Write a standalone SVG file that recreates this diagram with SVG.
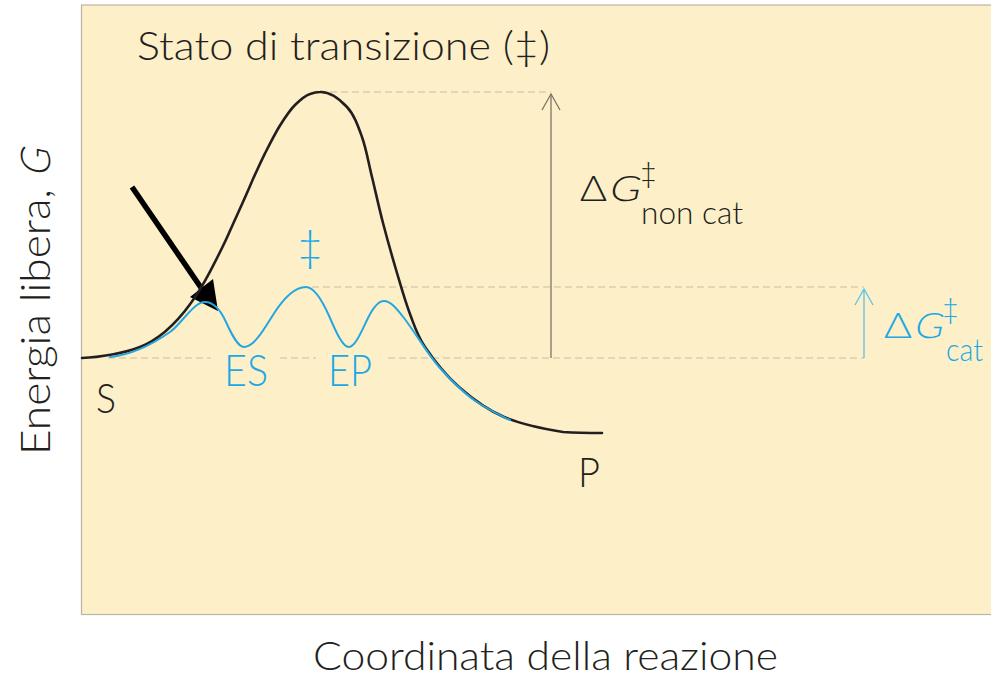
<svg xmlns="http://www.w3.org/2000/svg" width="991" height="678" viewBox="0 0 991 678">
<defs>
<style>
.t{font-family:"Lato","Liberation Sans",Arial,sans-serif;font-weight:300;fill:#231f20}
.b{fill:#1aa9e6}
.dash{stroke:#c8bda6;stroke-width:1.2;stroke-dasharray:7 4;fill:none}
.curve{fill:none;stroke:#231f20;stroke-width:2.6;stroke-linecap:round;stroke-linejoin:round}
.bcurve{fill:none;stroke:#25a6e0;stroke-width:2;stroke-linecap:round}
</style>
</defs>
<rect x="0" y="0" width="991" height="678" fill="#ffffff"/>
<rect id="panel" x="81.5" y="5" width="915" height="609.5" fill="#fdefc8" stroke="#bab3a4" stroke-width="1.2"/>

<g id="guides">
<line class="dash" x1="330" y1="92" x2="551" y2="92"/>
<line class="dash" x1="312" y1="287" x2="864" y2="287"/>
<line class="dash" x1="108" y1="358" x2="211" y2="358"/>
<line class="dash" x1="280" y1="358" x2="316" y2="358"/>
<line class="dash" x1="388" y1="358" x2="864" y2="358"/>
</g>

<g id="connectors">
<g id="arrow-noncat" stroke="#7d7468" stroke-width="1.3" fill="none">
<line x1="551" y1="358" x2="551" y2="94"/>
<polyline points="542,110 551,94 560,110"/>
</g>
<g id="arrow-cat" stroke="#5bc1ea" stroke-width="1.3" fill="none">
<line x1="864" y1="358" x2="864" y2="289"/>
<polyline points="855,305 864,289 873,305"/>
</g>
<g id="pointer">
<line x1="132" y1="187" x2="204" y2="292" stroke="#000" stroke-width="5.5"/>
<polygon points="218,311 190,297 213,279" fill="#000"/>
</g>
</g>

<g id="curve-uncat">
<path class="curve" d="M82,358 C100,357.5 125,353 140,347 C150,343 158,337.5 165,331.7 C175,323 183,314 190,304.2 C197,295 204,283 210,271.6 C217,258 224,245 230,230.8 C237,215 244,200 250,185.9 C255,174.5 260,163.5 265,153.4 C270,143.5 275,133.5 280,125.5 C285,117.5 290,110 295,105 C300,100 305,95.5 310,93.9 C314,92.5 317,92 320,92 C329.5,91.5 340,99.5 347,107 C354,114.5 357.8,125.3 362,137 C366.2,148.7 368.5,162.7 372,177 C375.5,191.3 378.8,207 383,223 C387.2,239 392.5,257.8 397,273 C401.5,288.2 405.3,301.7 410,314 C414.7,326.3 416.8,334.8 425,347 C433.2,359.2 445.8,375.3 459,387 C472.2,398.7 486.7,409.5 504,417 C521.3,424.5 546.7,429.3 563,432 C579,433 587.5,433 602,433"/>
</g>

<g id="curve-cat">
<path class="bcurve" d="M110,357 C130,355 150,346 170,332 C181.7,323.8 193.3,302 205,302 C212,302 219,306.6 226,322 C232,335.2 238,347 244,347 C253.7,347 263.3,330.5 273,315 C284,297.4 295,287 306,287 C314,287 322,299.6 330,318 C336.3,332.6 342.7,347 349,347 C355.3,347 361.7,330.7 368,318 C373.3,307.3 378.7,301 384,301 C390.7,301 397.3,309.3 404,318 C416,333.6 428,354.8 440,368 C453.3,382.7 466.7,396 480,404 C490,410 500,415.5 510,420"/>
</g>

<g id="title">
<text class="t" x="137" y="60" font-size="39" textLength="413" lengthAdjust="spacingAndGlyphs">Stato di transizione (‡)</text>
</g>

<g id="label-S"><text class="t" x="96" y="413" font-size="41" textLength="20" lengthAdjust="spacingAndGlyphs">S</text></g>
<g id="label-P"><text class="t" x="578" y="487" font-size="41" textLength="22" lengthAdjust="spacingAndGlyphs">P</text></g>
<g id="label-ES"><text class="t b" x="224" y="386" font-size="43" textLength="44" lengthAdjust="spacingAndGlyphs">ES</text></g>
<g id="label-EP"><text class="t b" x="328" y="386" font-size="43" textLength="44" lengthAdjust="spacingAndGlyphs">EP</text></g>
<g id="label-ts-cat"><text class="t b" x="310" y="261" font-size="44" text-anchor="middle" font-weight="400">‡</text></g>

<g id="label-dG-noncat">
<text class="t" x="580" y="201" font-size="35" font-weight="700" textLength="27" lengthAdjust="spacingAndGlyphs">Δ</text>
<text class="t" transform="translate(608,201) skewX(-12)" x="0" y="0" font-size="35" textLength="31" lengthAdjust="spacingAndGlyphs">G</text>
<text class="t" x="640" y="183" font-size="29" font-weight="400">‡</text>
<text class="t" x="641" y="224" font-size="31" textLength="102" lengthAdjust="spacingAndGlyphs">non cat</text>
</g>

<g id="label-dG-cat">
<text class="t b" x="884" y="338" font-size="35" font-weight="700" textLength="28" lengthAdjust="spacingAndGlyphs">Δ</text>
<text class="t b" transform="translate(913,338) skewX(-12)" x="0" y="0" font-size="35" textLength="29" lengthAdjust="spacingAndGlyphs">G</text>
<text class="t b" x="942" y="319" font-size="29" font-weight="400">‡</text>
<text class="t b" x="946" y="361" font-size="31" textLength="37" lengthAdjust="spacingAndGlyphs">cat</text>
</g>

<g id="axis-y" transform="translate(50,455) rotate(-90)">
<text class="t" x="0" y="0" font-size="41" textLength="266" lengthAdjust="spacingAndGlyphs">Energia libera,</text>
<text class="t" transform="translate(278,0) skewX(-12)" x="0" y="0" font-size="41" textLength="28" lengthAdjust="spacingAndGlyphs">G</text>
</g>
<g id="axis-x">
<text class="t" x="313" y="670" font-size="39" textLength="465" lengthAdjust="spacingAndGlyphs">Coordinata della reazione</text>
</g>
</svg>
